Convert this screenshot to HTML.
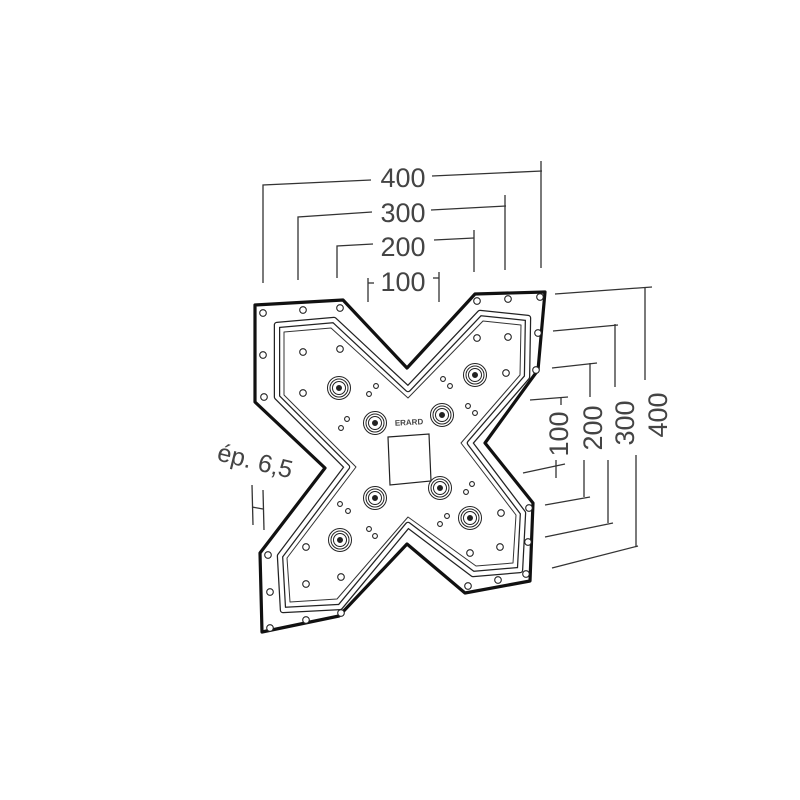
<!DOCTYPE html>
<html><head><meta charset="utf-8"><style>
html,body{margin:0;padding:0;background:#fff;}
svg{display:block;}
text{font-family:"Liberation Sans",sans-serif;fill:#444;}
</style></head><body>
<svg width="800" height="800" viewBox="0 0 800 800" xmlns="http://www.w3.org/2000/svg">
<defs>
<g id="boss" fill="none" stroke="#222" stroke-width="1"><circle r="11.5"/><circle r="9"/><circle r="6.5"/><circle r="2.5" fill="#222"/></g>
</defs>
<g stroke="#333" stroke-width="1.3" fill="none">
<polyline points="263,283 263,185 371,180"/><polyline points="432,176 542,171"/><line x1="541" y1="161" x2="541" y2="268"/>
<polyline points="298,280 298,217 372,212"/><polyline points="431,210 506,206"/><line x1="505" y1="195" x2="505" y2="270"/>
<polyline points="337,278 337,246 373,244"/><polyline points="434,240 474,238"/><line x1="474" y1="230" x2="474" y2="272"/>
<line x1="368" y1="278" x2="368" y2="302"/><line x1="368" y1="283" x2="374" y2="283"/>
<line x1="439" y1="272" x2="439" y2="302"/><line x1="433" y1="278" x2="439" y2="278"/>
<polyline points="555,294 652,287"/><line x1="645" y1="288" x2="645" y2="380"/><line x1="636" y1="455" x2="636" y2="547"/><polyline points="552,568 638,546"/>
<polyline points="553,331 618,325"/><line x1="615" y1="324" x2="615" y2="387"/><line x1="608" y1="460" x2="608" y2="523"/><polyline points="545,537 613,523"/>
<polyline points="552,368 597,363"/><line x1="590" y1="363" x2="590" y2="397"/><line x1="584" y1="460" x2="584" y2="497"/><polyline points="545,505 590,497"/>
<polyline points="530,400 568,397"/><line x1="561" y1="397" x2="561" y2="405"/><line x1="556" y1="460" x2="556" y2="478"/><polyline points="523,473 565,464"/>
<line x1="252" y1="485" x2="253" y2="525"/><line x1="263" y1="490" x2="264" y2="530"/><line x1="252" y1="507" x2="263" y2="509"/>
</g>
<g font-size="27">
<text x="403" y="187" text-anchor="middle">400</text>
<text x="403" y="222" text-anchor="middle">300</text>
<text x="403" y="256" text-anchor="middle">200</text>
<text x="403" y="291" text-anchor="middle">100</text>
<text transform="translate(667,415) rotate(-90)" text-anchor="middle">400</text>
<text transform="translate(634,423) rotate(-90)" text-anchor="middle">300</text>
<text transform="translate(602,428) rotate(-90)" text-anchor="middle">200</text>
<text transform="translate(568,434) rotate(-90)" text-anchor="middle">100</text>
<text transform="translate(216,460) rotate(14)" font-size="25">ép. 6,5</text>
</g>
<path d="M255,305 L343,300 L407,368 L475,294 L545,292 L538,370 L485,443 L533,503 L530,581 L465,593 L407,544 L339,616 L262,632 L260,553 L325,468 L255,402 Z" fill="#fff" stroke="#111" stroke-width="3.2" stroke-linejoin="round"/>
<path d="M277,325 L334,320 L408,389 L480,313 L528,318 L527,377 L470,443 L523,513 L520,570 L473,574 L408,525 L340,607 L283,610 L280,556 L347,467 L277,397 Z" fill="none" stroke="#222" stroke-width="6.5" stroke-linejoin="round"/>
<path d="M277,325 L334,320 L408,389 L480,313 L528,318 L527,377 L470,443 L523,513 L520,570 L473,574 L408,525 L340,607 L283,610 L280,556 L347,467 L277,397 Z" fill="none" stroke="#fff" stroke-width="4" stroke-linejoin="round"/>
<path d="M284,332 L331,328 L408,398 L483,321 L521,325 L520,375 L461,443 L516,515 L513,563 L476,566 L408,517 L337,599 L290,602 L287,558 L356,467 L284,395 Z" fill="none" stroke="#333" stroke-width="1" stroke-linejoin="round"/>
<path d="M388,437 L429,434 L431,481 L390,485 Z" fill="#fff" stroke="#222" stroke-width="1.2"/>
<text x="409" y="425" font-size="8" font-weight="bold" text-anchor="middle" fill="#222" transform="rotate(-3 409 422)">ERARD</text>
<use href="#boss" x="339" y="388"/><use href="#boss" x="475" y="375"/><use href="#boss" x="375" y="423"/><use href="#boss" x="442" y="415"/>
<use href="#boss" x="375" y="498"/><use href="#boss" x="440" y="488"/><use href="#boss" x="470" y="518"/><use href="#boss" x="340" y="540"/>
<g fill="#fff" stroke="#222" stroke-width="1.1">
<circle cx="263" cy="313" r="3.3"/><circle cx="303" cy="310" r="3.3"/><circle cx="340" cy="308" r="3.3"/><circle cx="263" cy="355" r="3.3"/><circle cx="264" cy="397" r="3.3"/>
<circle cx="477" cy="301" r="3.3"/><circle cx="508" cy="299" r="3.3"/><circle cx="540" cy="297" r="3.3"/><circle cx="538" cy="333" r="3.3"/><circle cx="536" cy="370" r="3.3"/>
<circle cx="529" cy="508" r="3.3"/><circle cx="528" cy="542" r="3.3"/><circle cx="526" cy="574" r="3.3"/><circle cx="498" cy="580" r="3.3"/><circle cx="468" cy="586" r="3.3"/>
<circle cx="268" cy="555" r="3.3"/><circle cx="270" cy="592" r="3.3"/><circle cx="270" cy="628" r="3.3"/><circle cx="306" cy="620" r="3.3"/><circle cx="341" cy="613" r="3.3"/>
<circle cx="303" cy="352" r="3.3"/><circle cx="340" cy="349" r="3.3"/><circle cx="303" cy="393" r="3.3"/><circle cx="477" cy="338" r="3.3"/><circle cx="508" cy="337" r="3.3"/><circle cx="506" cy="373" r="3.3"/>
<circle cx="306" cy="547" r="3.3"/><circle cx="306" cy="584" r="3.3"/><circle cx="341" cy="577" r="3.3"/><circle cx="470" cy="553" r="3.3"/><circle cx="500" cy="547" r="3.3"/><circle cx="501" cy="513" r="3.3"/>
<circle cx="376" cy="386" r="2.4"/><circle cx="369" cy="394" r="2.4"/><circle cx="443" cy="379" r="2.4"/><circle cx="450" cy="386" r="2.4"/>
<circle cx="347" cy="419" r="2.4"/><circle cx="341" cy="428" r="2.4"/><circle cx="468" cy="406" r="2.4"/><circle cx="475" cy="413" r="2.4"/>
<circle cx="340" cy="504" r="2.4"/><circle cx="348" cy="511" r="2.4"/><circle cx="472" cy="484" r="2.4"/><circle cx="466" cy="492" r="2.4"/>
<circle cx="369" cy="529" r="2.4"/><circle cx="375" cy="536" r="2.4"/><circle cx="447" cy="516" r="2.4"/><circle cx="440" cy="524" r="2.4"/>
</g>
</svg>
</body></html>
